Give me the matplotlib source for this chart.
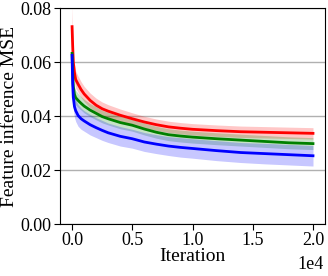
import matplotlib
matplotlib.use("Agg")
import matplotlib.pyplot as plt
import numpy as np

plt.rcParams['font.family'] = ['Liberation Serif', 'DejaVu Serif']

iters = [0, 50, 100, 200, 300, 500, 750, 1000, 1500, 2000, 2500, 3000, 4000,
         5000, 6000, 7000, 8000, 9000, 10000, 12000, 14000, 16000, 18000, 20000]

red_mean = [0.0731, 0.066, 0.060, 0.056, 0.0535, 0.0518, 0.0498, 0.0482, 0.0458,
            0.0440, 0.0427, 0.0418, 0.0403, 0.0390, 0.0378, 0.0368, 0.0360, 0.0355,
            0.0351, 0.0346, 0.0342, 0.0340, 0.0338, 0.0336]
red_std = [0.008, 0.006, 0.004, 0.0035, 0.0032, 0.003, 0.0029, 0.0028, 0.0027,
           0.0026, 0.0025, 0.0024, 0.0023, 0.0022, 0.0021, 0.0021, 0.0021, 0.0021,
           0.0021, 0.0021, 0.0021, 0.0021, 0.0021, 0.0021]

green_mean = [0.0632, 0.056, 0.051, 0.048, 0.0468, 0.0458, 0.0447, 0.0437, 0.0422,
              0.0410, 0.0398, 0.0390, 0.0376, 0.0366, 0.0352, 0.0340, 0.0331, 0.0326,
              0.0322, 0.0316, 0.0311, 0.0306, 0.0301, 0.0298]
green_std = [0.004, 0.0035, 0.003, 0.0028, 0.0027, 0.0026, 0.0025, 0.0025, 0.0024,
             0.0024, 0.0023, 0.0023, 0.0023, 0.0022, 0.0022, 0.0022, 0.0022, 0.0022,
             0.0022, 0.0022, 0.0022, 0.0022, 0.0022, 0.0022]

blue_mean = [0.0625, 0.052, 0.047, 0.0435, 0.0420, 0.0402, 0.0390, 0.0382, 0.0368,
             0.0357, 0.0347, 0.0338, 0.0325, 0.0316, 0.0304, 0.0296, 0.0289, 0.0284,
             0.0280, 0.0272, 0.0265, 0.0261, 0.0257, 0.0253]
blue_std = [0.005, 0.0045, 0.0042, 0.004, 0.004, 0.004, 0.0039, 0.0038, 0.0038,
            0.0037, 0.0037, 0.0036, 0.0036, 0.0035, 0.0035, 0.0035, 0.0035, 0.0036,
            0.0036, 0.0037, 0.0037, 0.0038, 0.0038, 0.0038]

series = [(red_mean, red_std, 'red'),
          (green_mean, green_std, 'green'),
          (blue_mean, blue_std, 'blue')]

fig = plt.figure(figsize=(3.28, 2.76), dpi=100)
ax = fig.add_axes([0.183, 0.188, 0.808, 0.783])

x = np.array(iters)
for mean, std, c in series:
    m = np.array(mean)
    s = np.array(std)
    ax.fill_between(x, m - s, m + s, color=c, alpha=0.22, linewidth=0)
for mean, std, c in series:
    ax.plot(x, mean, color=c, lw=2)

ax.set_ylim(0, 0.08)
ax.set_yticks([0.0, 0.02, 0.04, 0.06, 0.08])
ax.set_yticklabels(['0.00', '0.02', '0.04', '0.06', '0.08'])
ax.set_xticks([0, 5000, 10000, 15000, 20000])
ax.set_xticklabels(['0.0', '0.5', '1.0', '1.5', '2.0'])
ax.yaxis.grid(True, color='#b0b0b0', lw=1)
ax.set_axisbelow(True)
ax.tick_params(labelsize=13, length=4, pad=2)
ax.set_xlabel('Iteration', fontsize=14, labelpad=-1)
ax.set_ylabel('Feature inference MSE', fontsize=14, labelpad=2)
ax.text(0.995, -0.21, '1e4', transform=ax.transAxes, ha='right', va='baseline', fontsize=13)

fig.savefig('out.png', dpi=100)
